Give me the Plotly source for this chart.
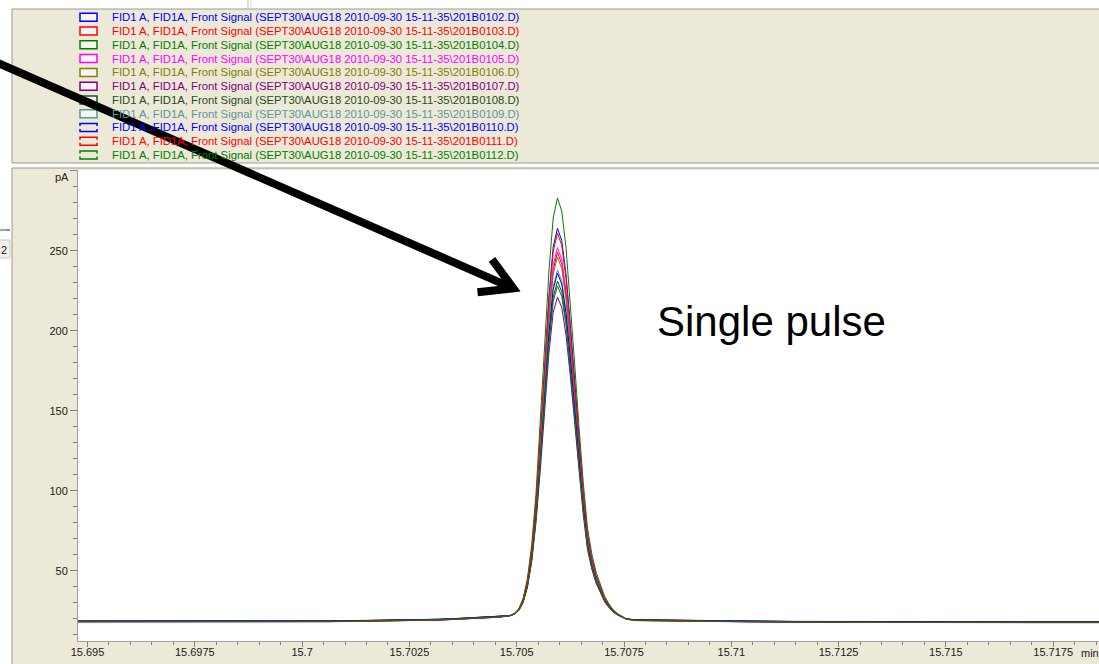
import plotly.graph_objects as go

# ---------------------------------------------------------------- data
# Retention time of each sample (min): baseline, peak region, tail
rt_min = [15.6947, 15.6965, 15.6982, 15.6995, 15.7006, 15.7016, 15.7024, 15.7032, 15.7037, 15.7042, 15.7046,
          15.70485, 15.70495, 15.70505, 15.70515, 15.70525, 15.70535, 15.70545, 15.70555, 15.70565, 15.70575,
          15.70585, 15.70595, 15.70605, 15.70615, 15.70625, 15.70635, 15.70645, 15.70655, 15.70665, 15.70675,
          15.70685, 15.70695, 15.70705, 15.70715, 15.70725, 15.70735, 15.70745, 15.70755,
          15.70775, 15.7082, 15.7092, 15.7104, 15.7116, 15.7130, 15.7150, 15.7170, 15.7186]

# FID signal (pA) for each injection
sig_0102 = [18.5, 18.5, 18.3, 18.2, 18.6, 18.9, 19.2, 19.6, 20.2, 20.8, 21.4,
            22.0, 23.2, 25.9, 32.0, 43.4, 63.0, 92.9, 132.5, 177.6, 221.0, 252.3, 264.0, 256.3, 235.1, 204.0,
            167.9, 131.7, 99.2, 72.5, 57.6, 47.0, 39.7, 32.8, 28.5, 25.1, 22.9, 21.2, 19.9,
            19.3, 19.1, 18.7, 18.5, 18.2, 18.0, 18.1, 18.0, 18.0]
sig_0103 = [18.1, 18.1, 17.9, 17.8, 18.2, 18.5, 18.8, 19.2, 19.8, 20.4, 21.0,
            22.0, 23.1, 25.6, 31.3, 42.0, 60.5, 88.5, 125.6, 167.9, 208.7, 238.1, 249.0, 241.7, 221.8, 192.7,
            158.8, 124.8, 94.3, 69.3, 55.3, 45.3, 38.5, 32.0, 28.0, 24.8, 22.7, 21.1, 19.9,
            18.9, 18.7, 18.3, 18.1, 17.8, 17.6, 17.7, 17.6, 17.6]
sig_0104 = [18.3, 18.3, 18.1, 18.0, 18.4, 18.7, 19.0, 19.4, 20.0, 20.6, 21.2,
            22.1, 23.4, 26.3, 32.8, 45.1, 66.3, 98.5, 141.2, 189.8, 236.7, 270.4, 283.0, 274.7, 251.8, 218.4,
            179.5, 140.4, 105.4, 76.6, 60.6, 49.1, 41.3, 33.9, 29.2, 25.6, 23.2, 21.4, 20.0,
            19.1, 18.9, 18.5, 18.3, 18.0, 17.8, 17.9, 17.8, 17.8]
sig_0105 = [18.4, 18.4, 18.2, 18.1, 18.5, 18.8, 19.1, 19.5, 20.1, 20.7, 21.3,
            22.0, 23.2, 25.7, 31.5, 42.3, 61.0, 89.4, 127.0, 169.9, 211.2, 240.9, 252.0, 244.6, 224.5, 195.0,
            160.6, 126.2, 95.3, 69.9, 55.8, 45.6, 38.7, 32.2, 28.1, 24.8, 22.8, 21.2, 19.9,
            19.2, 19.0, 18.6, 18.4, 18.1, 17.9, 18.0, 17.9, 17.9]
sig_0106 = [18.2, 18.2, 18.0, 17.9, 18.3, 18.6, 18.9, 19.3, 19.9, 20.5, 21.1,
            22.0, 23.1, 25.6, 31.2, 41.8, 60.0, 87.6, 124.2, 166.0, 206.2, 235.2, 246.0, 238.8, 219.2, 190.4,
            157.0, 123.4, 93.3, 68.6, 54.8, 45.0, 38.3, 31.9, 27.8, 24.7, 22.7, 21.1, 19.9,
            19.0, 18.8, 18.4, 18.2, 17.9, 17.7, 17.8, 17.7, 17.7]
sig_0107 = [18.5, 18.5, 18.3, 18.2, 18.6, 18.9, 19.2, 19.6, 20.2, 20.8, 21.4,
            21.9, 22.9, 25.1, 30.1, 39.5, 55.6, 80.2, 112.8, 149.9, 185.7, 211.4, 221.0, 214.6, 197.1, 171.6,
            141.8, 112.0, 85.2, 63.2, 51.0, 42.2, 36.2, 30.5, 26.9, 24.1, 22.3, 20.9, 19.8,
            19.3, 19.1, 18.7, 18.5, 18.2, 18.0, 18.1, 18.0, 18.0]
sig_0108 = [18.1, 18.1, 17.9, 17.8, 18.2, 18.5, 18.8, 19.2, 19.8, 20.4, 21.0,
            21.9, 23.0, 25.3, 30.5, 40.4, 57.4, 83.2, 117.3, 156.3, 193.9, 220.9, 231.0, 224.3, 206.0, 179.1,
            147.9, 116.5, 88.5, 65.4, 52.5, 43.3, 37.0, 31.0, 27.3, 24.3, 22.5, 21.0, 19.8,
            18.9, 18.7, 18.3, 18.1, 17.8, 17.6, 17.7, 17.6, 17.6]
sig_0109 = [18.4, 18.4, 18.2, 18.1, 18.5, 18.8, 19.1, 19.5, 20.1, 20.7, 21.3,
            22.0, 23.0, 25.4, 30.8, 41.0, 58.6, 85.2, 120.6, 160.9, 199.6, 227.6, 238.0, 231.1, 212.1, 184.4,
            152.1, 119.8, 90.7, 66.9, 53.6, 44.1, 37.6, 31.4, 27.5, 24.5, 22.6, 21.0, 19.9,
            19.2, 19.0, 18.6, 18.4, 18.1, 17.9, 18.0, 17.9, 17.9]
sig_0110 = [18.6, 18.6, 18.4, 18.3, 18.7, 19.0, 19.3, 19.7, 20.3, 20.9, 21.5,
            21.9, 23.0, 25.4, 30.8, 40.8, 58.2, 84.6, 119.6, 159.6, 198.0, 225.7, 236.0, 229.1, 210.4, 182.9,
            150.9, 118.8, 90.1, 66.5, 53.3, 43.8, 37.4, 31.3, 27.5, 24.5, 22.5, 21.0, 19.8,
            19.4, 19.2, 18.8, 18.6, 18.3, 18.1, 18.2, 18.1, 18.1]
sig_0111 = [18.0, 18.0, 17.8, 17.7, 18.1, 18.4, 18.7, 19.1, 19.7, 20.3, 20.9,
            22.0, 23.2, 25.9, 31.9, 43.1, 62.5, 92.0, 131.1, 175.7, 218.6, 249.5, 261.0, 253.4, 232.4, 201.8,
            166.1, 130.3, 98.2, 71.9, 57.2, 46.6, 39.5, 32.7, 28.4, 25.1, 22.9, 21.2, 19.9,
            18.8, 18.6, 18.2, 18.0, 17.7, 17.5, 17.6, 17.5, 17.5]
sig_0112 = [18.3, 18.3, 18.1, 18.0, 18.4, 18.7, 19.0, 19.4, 20.0, 20.6, 21.2,
            21.9, 23.0, 25.2, 30.4, 40.1, 56.9, 82.3, 116.0, 154.4, 191.4, 218.1, 228.0, 221.4, 203.3, 176.9,
            146.1, 115.2, 87.5, 64.7, 52.0, 43.0, 36.8, 30.9, 27.2, 24.3, 22.4, 21.0, 19.8,
            19.1, 18.9, 18.5, 18.3, 18.0, 17.8, 17.9, 17.8, 17.8]

data_files = ["201B0102.D", "201B0103.D", "201B0104.D", "201B0105.D", "201B0106.D", "201B0107.D",
              "201B0108.D", "201B0109.D", "201B0110.D", "201B0111.D", "201B0112.D"]

x_tick_vals = [15.695, 15.6975, 15.7, 15.7025, 15.705, 15.7075, 15.71, 15.7125, 15.715, 15.7175]
x_tick_text = ["15.695", "15.6975", "15.7", "15.7025", "15.705", "15.7075", "15.71", "15.7125", "15.715", "15.7175"]
y_tick_vals = [50, 100, 150, 200, 250, 300]
y_tick_text = ["50", "100", "150", "200", "250", ""]

# ---------------------------------------------------------------- styling
signals = [sig_0102, sig_0103, sig_0104, sig_0105, sig_0106, sig_0107,
           sig_0108, sig_0109, sig_0110, sig_0111, sig_0112]
colors = ["#0000ff", "#ff0000", "#008000", "#ff00ff", "#808000", "#800080",
          "#1e4d1e", "#5a9898", "#0000ff", "#ff0000", "#008000"]

W, H = 1099, 664
PL, PR, PT, PB = 78, 1099, 170, 641          # plot area in pixels
PANEL = "#ECE9D8"
BORDER = "#9c9a8c"
FONT = "Liberation Sans"


def fx(px):
    return (px - PL) / (PR - PL)


def fy(py):
    return (PB - py) / (PB - PT)


def rect(x0, y0, x1, y1, fill, line=None, width=1, layer="below"):
    return dict(type="rect", xref="paper", yref="paper", layer=layer,
                x0=fx(x0), x1=fx(x1), y0=fy(y1), y1=fy(y0),
                fillcolor=fill, line=dict(color=line or fill, width=width if line else 0))


def seg(x0, y0, x1, y1, color, width=1, layer="below"):
    return dict(type="line", xref="paper", yref="paper", layer=layer,
                x0=fx(x0), x1=fx(x1), y0=fy(y0), y1=fy(y1),
                line=dict(color=color, width=width))


def path(points, color, width, layer="above"):
    d = "M " + " L ".join(f"{fx(x):.5f},{fy(y):.5f}" for x, y in points)
    return dict(type="path", xref="paper", yref="paper", layer=layer, path=d,
                line=dict(color=color, width=width))


fig = go.Figure()
for f, sig, c in zip(data_files, signals, colors):
    fig.add_trace(go.Scatter(x=rt_min, y=sig, mode="lines", name=f,
                             line=dict(color=c, width=1), hoverinfo="skip"))

shapes = [
    # window panels
    rect(12, 9, 1100, 163, PANEL, BORDER),
    rect(12, 168, 1100, 665, PANEL, BORDER),
    rect(PL, PT, 1100, PB, "#ffffff"),
    # fragments of the neighbouring window on the left edge
    seg(0, 230, 8, 230, "#008000", 1),
    seg(7.5, 230, 10, 230, "#0000ff", 1),
    rect(-2, 240, 10, 258, "#f3f2ea", "#c8c6b8"),
    seg(248, 0, 248, 8, "#b8b6aa", 1),
    seg(251, 0, 251, 8, "#d8d6cc", 1),
]

annotations = []
row0, row_step = 17.3, 13.77
for i, (f, c) in enumerate(zip(data_files, colors)):
    yc = row0 + i * row_step
    if i < 8:
        shapes.append(rect(80, yc - 4, 97, yc + 4, "#f6f5f0", c, 1.5, layer="above"))
    else:
        shapes.append(dict(type="path", xref="paper", yref="paper", layer="above",
                           path=(f"M {fx(80):.5f},{fy(yc - 1.5):.5f} L {fx(80):.5f},{fy(yc - 4):.5f} "
                                 f"L {fx(97):.5f},{fy(yc - 4):.5f} L {fx(97):.5f},{fy(yc - 1.5):.5f} "
                                 f"M {fx(80):.5f},{fy(yc + 1.5):.5f} L {fx(80):.5f},{fy(yc + 4):.5f} "
                                 f"L {fx(97):.5f},{fy(yc + 4):.5f} L {fx(97):.5f},{fy(yc + 1.5):.5f}"),
                           line=dict(color=c, width=1.5)))
    label = "FID1 A, FID1A, Front Signal (SEPT30\\AUG18 2010-09-30 15-11-35\\" + f + ")"
    annotations.append(dict(xref="paper", yref="paper", x=fx(110), y=fy(yc), xanchor="left",
                            yanchor="middle", text=label, showarrow=False,
                            font=dict(family=FONT, size=11.3, color=c)))

# arrow pointing at the peak
tip = (513.3, 288.3)
shapes.append(path([(-10, 59.6), (507.5, 285.8)], "#000000", 8))
shapes.append(path([(492.0, 259.3), tip, (477.5, 292.3)], "#000000", 8))

annotations += [
    dict(xref="paper", yref="paper", x=fx(655), y=fy(321), xanchor="left", yanchor="middle",
         text="Single pulse", showarrow=False, font=dict(family=FONT, size=42, color="#000000")),
    dict(xref="paper", yref="paper", x=fx(61.5), y=fy(176.5), xanchor="center", yanchor="middle",
         text="pA", showarrow=False, font=dict(family=FONT, size=11, color="#202020")),
    dict(xref="paper", yref="paper", x=fx(1079), y=fy(653), xanchor="left", yanchor="middle",
         text="min", showarrow=False, font=dict(family=FONT, size=11, color="#202020")),
    dict(xref="paper", yref="paper", x=fx(-1), y=fy(250), xanchor="left", yanchor="middle",
         text="2", showarrow=False, font=dict(family=FONT, size=11, color="#202020")),
]

fig.update_layout(
    width=W, height=H,
    margin=dict(l=PL, r=W - PR, t=PT, b=H - PB, pad=0),
    paper_bgcolor="#ffffff", plot_bgcolor="rgba(0,0,0,0)",
    showlegend=False, hovermode=False,
    shapes=shapes, annotations=annotations,
    font=dict(family=FONT, size=11, color="#202020"),
)
fig.update_xaxes(
    range=[15.694779, 15.718567], tickmode="array", tickvals=x_tick_vals, ticktext=x_tick_text,
    showgrid=False, zeroline=False, showline=True, linecolor="#a0a0a0", linewidth=1,
    ticks="outside", ticklen=5, tickcolor="#808080", tickwidth=1, ticklabelstandoff=-4,
    minor=dict(ticks="outside", ticklen=3, tickcolor="#808080", dtick=0.0005, tick0=15.695, showgrid=False),
    tickfont=dict(family=FONT, size=11, color="#202020"),
)
fig.update_yaxes(
    range=[6.06, 300.44], tickmode="array", tickvals=y_tick_vals, ticktext=y_tick_text,
    showgrid=False, zeroline=False, showline=True, linecolor="#a0a0a0", linewidth=1,
    ticks="outside", ticklen=7, tickcolor="#808080", tickwidth=1,
    minor=dict(ticks="outside", ticklen=4, tickcolor="#808080", dtick=10, tick0=0, showgrid=False),
    tickfont=dict(family=FONT, size=11, color="#202020"),
)

fig.write_html("out.html")
